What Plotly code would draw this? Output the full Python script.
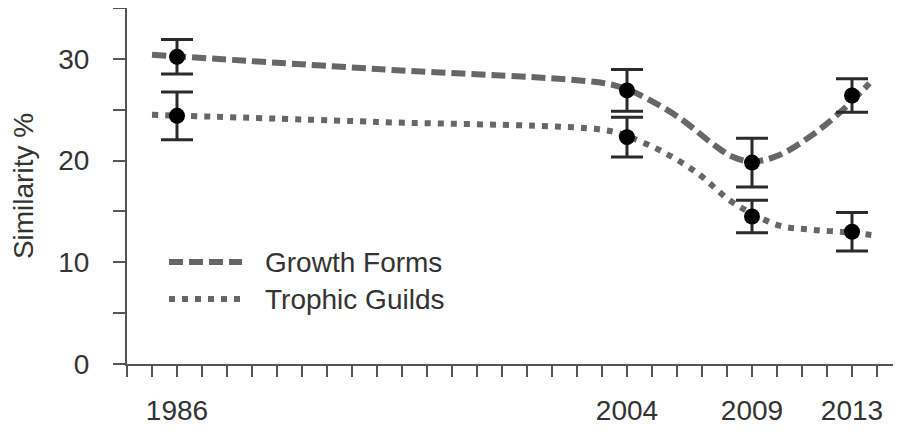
import plotly.graph_objects as go

# ---- data ----
years = [1986, 2004, 2009, 2013]
growth_forms = [30.2, 26.9, 19.8, 26.4]
growth_err = [1.7, 2.05, 2.4, 1.65]
trophic_guilds = [24.4, 22.3, 14.5, 13.0]
trophic_err = [2.35, 1.95, 1.6, 1.9]

# smoothed trend curves as traced on the picture
growth_curve_x = [1985.0, 1994.0, 2003.1, 2004.0, 2004.8, 2006.1, 2007.4, 2008.2, 2009.0, 2010.1, 2011.4, 2012.5, 2013.7]
growth_curve_y = [30.4, 29.0, 27.6, 27.0, 26.1, 24.2, 21.7, 20.4, 19.9, 20.55, 22.5, 24.7, 27.6]
trophic_curve_x = [1985.0, 1994.0, 2003.1, 2004.0, 2005.4, 2006.8, 2008.1, 2009.0, 2010.1, 2011.4, 2013.0, 2014.0]
trophic_curve_y = [24.5, 23.8, 23.0, 22.4, 20.9, 18.8, 16.1, 14.8, 13.6, 13.2, 12.9, 12.6]

x_tick_labels = ["1986", "2004", "2009", "2013"]
y_tick_labels = ["0", "10", "20", "30"]
series_names = ["Growth Forms", "Trophic Guilds"]

FONT = "Liberation Sans, Arial, sans-serif"
FS = 28
TXT = "#333333"
LINE_C = "#676767"
AX_C = "#555555"
DASH_G = "14px,6px"
DASH_T = "6px,7px"

ML, MR, MT, MB = 119, 8, 0, 78
W, H = 901, 434
PW, PH = W - ML - MR, H - MT - MB
PAGE_OFF = 8  # default page body margin

fig = go.Figure()

fig.add_trace(go.Scatter(x=growth_curve_x, y=growth_curve_y, mode="lines",
                         line=dict(color=LINE_C, width=6, dash=DASH_G, shape="spline", smoothing=1.0),
                         showlegend=False, hoverinfo="skip"))
fig.add_trace(go.Scatter(x=trophic_curve_x, y=trophic_curve_y, mode="lines",
                         line=dict(color=LINE_C, width=6, dash=DASH_T, shape="spline", smoothing=1.0),
                         showlegend=False, hoverinfo="skip"))

for vals, errs, name in [(growth_forms, growth_err, series_names[0]), (trophic_guilds, trophic_err, series_names[1])]:
    fig.add_trace(go.Scatter(x=years, y=vals, mode="markers", name=name,
                             marker=dict(color="black", size=16),
                             error_y=dict(type="data", array=errs, visible=True,
                                          color="#2b2b2b", thickness=3, width=16),
                             showlegend=False))

# x ticks every year, labelled only at survey years
x_tickvals = list(range(1984, 2015))
x_ticktext = [str(y) if str(y) in x_tick_labels else "" for y in x_tickvals]
y_tickvals = list(range(0, 36, 5))
y_ticktext = [str(v) if str(v) in y_tick_labels else "" for v in y_tickvals]

fig.update_layout(
    width=W, height=H,
    margin=dict(l=ML, r=MR, t=MT, b=MB),
    paper_bgcolor="white", plot_bgcolor="white",
    font=dict(family=FONT, size=FS, color=TXT),
    showlegend=False,
    xaxis=dict(range=[1984, 2014.96], tickmode="array", tickvals=x_tickvals, ticktext=x_ticktext,
               ticks="outside", ticklen=11, tickwidth=2, tickcolor=AX_C,
               showline=True, linecolor=AX_C, linewidth=2, showgrid=False, zeroline=False,
               ticklabelstandoff=9),
    yaxis=dict(range=[0, 35], tickmode="array", tickvals=y_tickvals, ticktext=y_ticktext,
               ticks="outside", ticklen=12, tickwidth=2, tickcolor=AX_C,
               showline=True, linecolor=AX_C, linewidth=2, showgrid=False, zeroline=False,
               title=dict(text="Similarity %", standoff=25,
                          font=dict(family=FONT, size=28, color=TXT)),
               ticklabelstandoff=18),
)

# custom legend (long sample lines as in the reference); positions given in page pixels
leg_x0, leg_x1 = 169, 242
for i, (name, dash) in enumerate([(series_names[0], DASH_G), (series_names[1], DASH_T)]):
    ypix = 262 + i * 37
    yp = 1 - (ypix - PAGE_OFF - MT) / PH
    xp0 = (leg_x0 - PAGE_OFF - ML) / PW
    xp1 = (leg_x1 - PAGE_OFF - ML) / PW
    fig.add_shape(type="line", xref="paper", yref="paper", x0=xp0, x1=xp1, y0=yp, y1=yp,
                  line=dict(color=LINE_C, width=6, dash=dash))
    fig.add_annotation(xref="paper", yref="paper", x=(263 - PAGE_OFF - ML) / PW, y=yp, text=name,
                       showarrow=False, xanchor="left", yanchor="middle",
                       font=dict(family=FONT, size=FS, color=TXT))

fig.write_html("out.html")
